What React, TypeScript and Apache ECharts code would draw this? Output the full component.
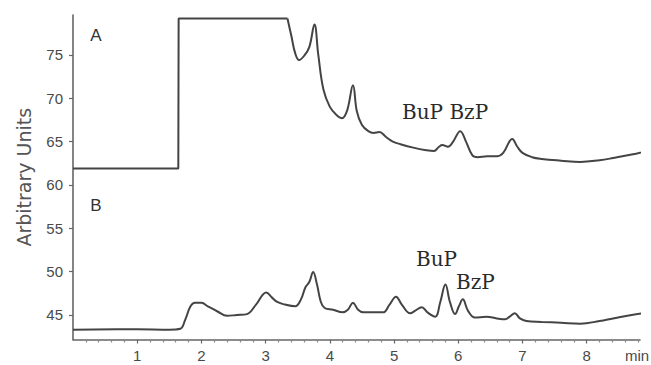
import React, { useEffect, useRef } from "react";
import * as echarts from "echarts";

// Trace A: step region (no smoothing) and chromatogram region
const traceAStep: [number, number][] = [
  [0, 61.9], [1.64, 61.9], [1.645, 79.2], [3.34, 79.2],
];
const traceA: [number, number][] = [
  [3.34, 79.2], [3.4, 77.2], [3.46, 75.2], [3.52, 74.4], [3.6, 74.9], [3.68, 75.9], [3.76, 78.5],
  [3.82, 75.0], [3.9, 71.0], [4.0, 69.0], [4.1, 68.1], [4.19, 67.7], [4.27, 68.6], [4.36, 71.5],
  [4.42, 68.5], [4.5, 66.9], [4.6, 66.2], [4.68, 66.0], [4.77, 66.1], [4.88, 65.5], [4.98, 65.0],
  [5.1, 64.7], [5.3, 64.3], [5.5, 64.0], [5.62, 63.9], [5.7, 64.4], [5.75, 64.6], [5.84, 64.4],
  [5.92, 65.0], [6.03, 66.2], [6.12, 65.0], [6.22, 63.4], [6.3, 63.2], [6.45, 63.3], [6.6, 63.3],
  [6.7, 63.7], [6.84, 65.3], [6.92, 64.4], [7.0, 63.7], [7.15, 63.2], [7.3, 63.0], [7.6, 62.8],
  [7.9, 62.65], [8.2, 62.85], [8.41, 63.1], [8.7, 63.5], [8.98, 64.0],
];
const traceB: [number, number][] = [
  [0, 43.3], [1.0, 43.35], [1.5, 43.3], [1.67, 43.4], [1.75, 44.5], [1.83, 46.0], [1.9, 46.4],
  [2.0, 46.4], [2.1, 46.0], [2.25, 45.4], [2.4, 44.9], [2.55, 45.0], [2.71, 45.1], [2.85, 46.2],
  [3.01, 47.6], [3.1, 47.0], [3.18, 46.5], [3.3, 46.2], [3.46, 46.0], [3.55, 46.8], [3.62, 48.2],
  [3.68, 48.8], [3.74, 49.96], [3.8, 48.5], [3.86, 46.5], [3.92, 45.8], [4.05, 45.6], [4.2, 45.3],
  [4.28, 45.6], [4.36, 46.4], [4.44, 45.6], [4.52, 45.3], [4.7, 45.3], [4.83, 45.3], [4.93, 46.2],
  [5.03, 47.1], [5.12, 46.2], [5.25, 45.2], [5.33, 45.5], [5.43, 45.9], [5.52, 45.3], [5.64, 44.8],
  [5.72, 46.5], [5.8, 48.5], [5.87, 46.5], [5.95, 45.1], [6.01, 46.0], [6.07, 46.8], [6.15, 45.5],
  [6.26, 44.7], [6.44, 44.8], [6.6, 44.6], [6.73, 44.5], [6.8, 44.8], [6.88, 45.2], [6.96, 44.6],
  [7.06, 44.3], [7.3, 44.2], [7.6, 44.1], [7.9, 44.0], [8.2, 44.3], [8.41, 44.6], [8.7, 45.0],
  [8.98, 45.3],
];
const yTickValues = [45, 50, 55, 60, 65, 70, 75];
const xTickValues = [1, 2, 3, 4, 5, 6, 7, 8];
const xMinorValues = [
  0.2, 0.4, 0.6, 0.8, 1.2, 1.4, 1.6, 1.8, 2.2, 2.4, 2.6, 2.8, 3.2, 3.4, 3.6, 3.8,
  4.2, 4.4, 4.6, 4.8, 5.2, 5.4, 5.6, 5.8, 6.2, 6.4, 6.6, 6.8, 7.2, 7.4, 7.6, 7.8,
  8.2, 8.4, 8.6, 8.8,
];

const lineColor = "#444";
const axisColor = "#666";
const labelColor = "#4a4a4a";

export default function App() {
  const ref = useRef<HTMLDivElement>(null);
  useEffect(() => {
    document.body.style.margin = "0";
    const chart = echarts.init(ref.current!, null, { renderer: "svg" });
    const xMin = 0;
    const xMax = 8.83;
    const yMin = 42.17;
    const yMax = 79.6;
    const baseXAxis = {
      type: "value",
      min: xMin,
      max: xMax,
      splitLine: { show: false },
    };
    chart.setOption({
      animation: false,
      backgroundColor: "#fff",
      grid: { left: 73, right: 11, top: 15, bottom: 25.5 },
      xAxis: [
        {
          ...baseXAxis,
          axisLine: { show: true, lineStyle: { color: axisColor, width: 1.6 } },
          axisTick: {
            show: true,
            customValues: xTickValues,
            length: 4,
            lineStyle: { color: axisColor, width: 1.2 },
          },
          axisLabel: {
            customValues: xTickValues,
            color: labelColor,
            fontFamily: "Liberation Sans",
            fontSize: 15,
            margin: 8,
          },
        },
        {
          ...baseXAxis,
          position: "bottom",
          axisLine: { show: false },
          axisTick: {
            show: true,
            customValues: xMinorValues,
            length: 3,
            lineStyle: { color: "#888", width: 1.2 },
          },
          axisLabel: { show: false },
        },
      ],
      yAxis: {
        type: "value",
        min: yMin,
        max: yMax,
        splitLine: { show: false },
        name: "Arbitrary Units",
        nameLocation: "middle",
        nameGap: 40,
        nameTextStyle: { color: "#555", fontFamily: "DejaVu Sans", fontSize: 19 },
        axisLine: { show: true, lineStyle: { color: axisColor, width: 1.6 } },
        axisTick: {
          show: true,
          customValues: yTickValues,
          length: 4,
          lineStyle: { color: axisColor, width: 1.2 },
        },
        axisLabel: {
          customValues: yTickValues,
          color: labelColor,
          fontFamily: "Liberation Sans",
          fontSize: 15,
          margin: 10,
        },
      },
      series: [
        {
          type: "line",
          data: traceAStep,
          showSymbol: false,
          clip: false,
          lineStyle: { color: lineColor, width: 2 },
        },
        {
          type: "line",
          data: traceA,
          showSymbol: false,
          smooth: 0.4,
          clip: false,
          lineStyle: { color: lineColor, width: 2 },
        },
        {
          type: "line",
          data: traceB,
          showSymbol: false,
          smooth: 0.4,
          clip: false,
          lineStyle: { color: lineColor, width: 2 },
        },
      ],
      graphic: [
        { type: "text", x: 96, y: 35, style: { text: "A", fontFamily: "Liberation Sans", fontSize: 17, fill: "#333", align: "center", verticalAlign: "middle" } },
        { type: "text", x: 96, y: 205, style: { text: "B", fontFamily: "Liberation Sans", fontSize: 17, fill: "#333", align: "center", verticalAlign: "middle" } },
        { type: "text", x: 402, y: 112, style: { text: "BuP BzP", fontFamily: "DejaVu Serif", fontSize: 20, fill: "#2a2a2a", align: "left", verticalAlign: "middle" } },
        { type: "text", x: 416, y: 259, style: { text: "BuP", fontFamily: "DejaVu Serif", fontSize: 20, fill: "#2a2a2a", align: "left", verticalAlign: "middle" } },
        { type: "text", x: 456, y: 282, style: { text: "BzP", fontFamily: "DejaVu Serif", fontSize: 20, fill: "#2a2a2a", align: "left", verticalAlign: "middle" } },
        { type: "text", x: 637, y: 355, style: { text: "min", fontFamily: "Liberation Sans", fontSize: 15, fill: labelColor, align: "center", verticalAlign: "middle" } },
      ],
    });
    return () => chart.dispose();
  }, []);
  return <div ref={ref} style={{ width: 651, height: 365 }} />;
}
